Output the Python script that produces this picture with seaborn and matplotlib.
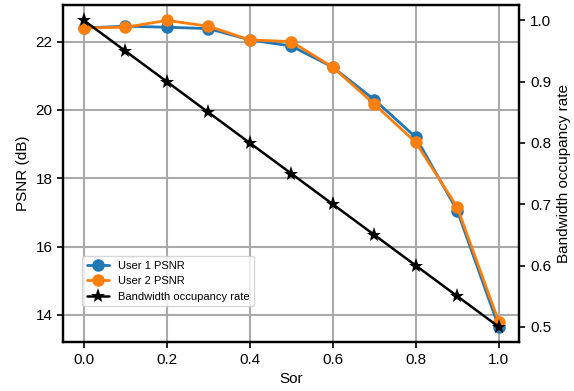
import numpy as np
import pandas as pd
import matplotlib
matplotlib.use("Agg")
import matplotlib.pyplot as plt
import seaborn as sns

sor = [0.0, 0.1, 0.2, 0.3, 0.4, 0.5, 0.6, 0.7, 0.8, 0.9, 1.0]
user1_psnr = [22.4, 22.45, 22.42, 22.38, 22.05, 21.87, 21.25, 20.3, 19.2, 17.05, 13.65]
user2_psnr = [22.4, 22.42, 22.62, 22.45, 22.05, 22.0, 21.25, 20.17, 19.05, 17.15, 13.8]
bandwidth = [1.0, 0.95, 0.9, 0.85, 0.8, 0.75, 0.7, 0.65, 0.6, 0.55, 0.5]

sns.set_style("ticks")
plt.rcParams['font.family'] = ['Arial', 'Liberation Sans', 'DejaVu Sans']
plt.rcParams['font.size'] = 11
plt.rcParams['text.color'] = 'black'
plt.rcParams['axes.labelcolor'] = 'black'
plt.rcParams['xtick.color'] = 'black'
plt.rcParams['ytick.color'] = 'black'

fig, ax = plt.subplots(figsize=(5.74, 3.91), dpi=100)
ax2 = ax.twinx()

df = pd.DataFrame({"Sor": sor, "u1": user1_psnr, "u2": user2_psnr, "bw": bandwidth})

sns.lineplot(data=df, x="Sor", y="u1", ax=ax, color="#1f77b4", marker="o",
             markersize=9, linewidth=2, markeredgewidth=0, label="User 1 PSNR", legend=False)
sns.lineplot(data=df, x="Sor", y="u2", ax=ax, color="#ff7f0e", marker="o",
             markersize=9, linewidth=2, markeredgewidth=0, label="User 2 PSNR", legend=False)
sns.lineplot(data=df, x="Sor", y="bw", ax=ax2, color="black", marker="*",
             markersize=11, linewidth=1.8, markeredgewidth=0, label="Bandwidth occupancy rate", legend=False)

ax.grid(True, color="#aaaaaa", linewidth=1.5)
ax.set_axisbelow(True)
ax.set_xlabel("Sor", fontsize=11)
ax.set_ylabel("PSNR (dB)", fontsize=11)
ax2.set_ylabel("Bandwidth occupancy rate", fontsize=11)
ax.set_xticks([0.0, 0.2, 0.4, 0.6, 0.8, 1.0])
ax.set_yticks([14, 16, 18, 20, 22])
ax2.set_yticks([0.5, 0.6, 0.7, 0.8, 0.9, 1.0])

for a in (ax, ax2):
    for s in a.spines.values():
        s.set_color("black")
        s.set_linewidth(1.6)
        s.set_visible(True)
    a.tick_params(direction="out", length=4, width=1.2, colors="black", labelsize=11)

h1, l1 = ax.get_legend_handles_labels()
h2, l2 = ax2.get_legend_handles_labels()
ax.legend(h1 + h2, l1 + l2, loc="lower left", bbox_to_anchor=(0.03, 0.09),
          fontsize=8, frameon=True, framealpha=0.8, handlelength=2.0)

plt.subplots_adjust(left=0.11, right=0.905, top=0.987, bottom=0.125)
fig.savefig("out.png", dpi=100)
